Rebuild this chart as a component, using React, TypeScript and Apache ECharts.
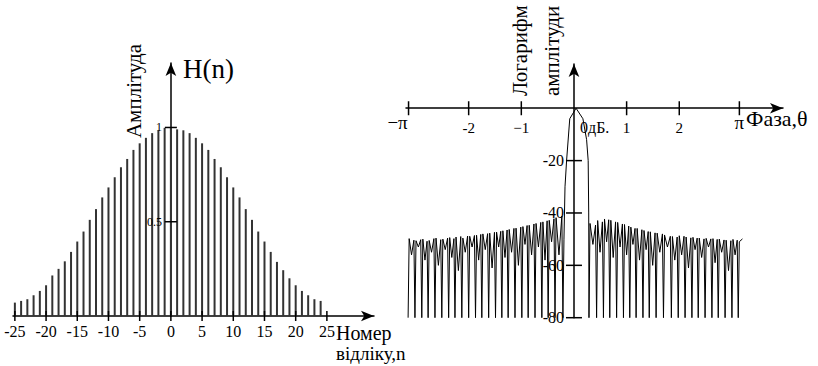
import React, { useEffect, useRef } from 'react';
import * as echarts from 'echarts';

// ---- Left chart: window samples H(n) ----
const sampleIndex = [
  -25, -24, -23, -22, -21, -20, -19, -18, -17, -16, -15, -14, -13, -12, -11, -10, -9, -8, -7, -6, -5, -4, -3, -2, -1,
  0, 1, 2, 3, 4, 5, 6, 7, 8, 9, 10, 11, 12, 13, 14, 15, 16, 17, 18, 19, 20, 21, 22, 23, 24,
];
const amplitude = [
  0.071, 0.08, 0.089, 0.11, 0.133, 0.163, 0.215, 0.25, 0.29, 0.34, 0.395, 0.448, 0.51, 0.567, 0.629, 0.682, 0.736, 0.789,
  0.833, 0.881, 0.916, 0.945, 0.97, 0.985, 0.998,
  1.0, 0.99, 0.985, 0.97, 0.945, 0.916, 0.881, 0.833, 0.789, 0.736, 0.682, 0.629, 0.567, 0.51, 0.448, 0.395, 0.34, 0.287,
  0.243, 0.2, 0.163, 0.133, 0.11, 0.089, 0.08,
];
const sampleTicks = [-25, -20, -15, -10, -5, 0, 5, 10, 15, 20, 25];
const sampleTickLabels = ['-25', '-20', '-15', '-10', '-5', '0', '5', '10', '15', '20', '25'];
const amplitudeTicks = [0.5, 1];
const amplitudeTickLabels = ['0.5', '1'];

// ---- Right chart: log magnitude spectrum [theta, dB] ----
const phaseTicks = [-Math.PI, -2, -1, 1, 2, Math.PI];
const phaseTickLabels = ['−π', '-2', '−1', '1', '2', 'π'];
const dbTicks = [-20, -40, -60, -80];
const dbTickLabels = ['-20', '-40', '-60', '-80'];

const leftSidelobes = [
  [-3.15, -80], [-3.13, -49.8], [-3.085, -56], [-3.04, -50.4], [-3.02, -80],
  [-3.0, -50.6], [-2.955, -53], [-2.91, -50.2], [-2.89, -80],
  [-2.87, -50.0], [-2.83, -58], [-2.79, -50.8], [-2.77, -80],
  [-2.75, -50.5], [-2.705, -55], [-2.66, -49.8], [-2.64, -80],
  [-2.62, -49.6], [-2.575, -60], [-2.53, -50.2], [-2.51, -80],
  [-2.49, -50.0], [-2.445, -54], [-2.4, -49.6], [-2.38, -80],
  [-2.36, -49.4], [-2.32, -57], [-2.28, -49.8], [-2.26, -80],
  [-2.24, -49.2], [-2.195, -62], [-2.15, -49.0], [-2.13, -80],
  [-2.11, -49.6], [-2.065, -55], [-2.02, -48.8], [-2.0, -80],
  [-1.98, -48.9], [-1.935, -53], [-1.89, -48.6], [-1.87, -80],
  [-1.85, -48.5], [-1.81, -58], [-1.77, -48.2], [-1.75, -80],
  [-1.73, -48.0], [-1.685, -54], [-1.64, -47.9], [-1.62, -80],
  [-1.6, -47.7], [-1.555, -61], [-1.51, -47.4], [-1.49, -80],
  [-1.47, -47.3], [-1.43, -53], [-1.39, -47.0], [-1.37, -80],
  [-1.35, -46.8], [-1.31, -57], [-1.27, -46.5], [-1.25, -80],
  [-1.23, -46.3], [-1.185, -55], [-1.14, -45.9], [-1.12, -80],
  [-1.1, -45.8], [-1.055, -60], [-1.01, -45.4], [-0.99, -80],
  [-0.97, -45.2], [-0.93, -52], [-0.89, -44.8], [-0.87, -80],
  [-0.85, -44.7], [-0.805, -56], [-0.76, -44.2], [-0.74, -80],
  [-0.72, -44.0], [-0.675, -53], [-0.63, -43.6], [-0.61, -80],
  [-0.59, -43.4], [-0.55, -58], [-0.51, -43.0], [-0.49, -80],
  [-0.47, -42.8], [-0.425, -51], [-0.38, -42.2], [-0.36, -80],
  [-0.34, -41.8], [-0.285, -56], [-0.23, -41.2], [-0.21, -80],
];
const mainLobe = [
  [-0.19, -50], [-0.17, -30], [-0.14, -20], [-0.08, -4], [0.04, 0], [0.17, -4], [0.24, -12], [0.27, -20],
  [0.28, -40], [0.285, -80],
];
const rightSidelobes = [
  [0.305, -44.0], [0.36, -52], [0.41, -44.6], [0.43, -80],
  [0.45, -42.9], [0.495, -55], [0.54, -43.4], [0.56, -80],
  [0.58, -42.3], [0.62, -51], [0.66, -42.6], [0.68, -80],
  [0.7, -42.8], [0.745, -57], [0.79, -43.4], [0.81, -80],
  [0.83, -43.6], [0.875, -53], [0.92, -44.2], [0.94, -80],
  [0.96, -44.4], [1.0, -56], [1.04, -45.0], [1.06, -80],
  [1.08, -45.4], [1.12, -52], [1.16, -45.9], [1.18, -80],
  [1.2, -45.9], [1.245, -58], [1.29, -46.4], [1.31, -80],
  [1.33, -46.7], [1.37, -54], [1.41, -47.1], [1.43, -80],
  [1.45, -47.2], [1.495, -60], [1.54, -47.6], [1.56, -80],
  [1.58, -47.7], [1.63, -55], [1.68, -48.0], [1.7, -80],
  [1.72, -48.4], [1.775, -53], [1.83, -48.9], [1.85, -80],
  [1.87, -49.0], [1.915, -58], [1.96, -49.2], [1.98, -80],
  [2.0, -48.7], [2.045, -56], [2.09, -48.9], [2.11, -80],
  [2.13, -49.2], [2.175, -61], [2.22, -49.5], [2.24, -80],
  [2.26, -49.3], [2.3, -54], [2.34, -49.6], [2.36, -80],
  [2.38, -49.6], [2.425, -57], [2.47, -49.9], [2.49, -80],
  [2.51, -49.7], [2.555, -53], [2.6, -49.9], [2.62, -80],
  [2.64, -49.8], [2.68, -59], [2.72, -50.1], [2.74, -80],
  [2.76, -50.0], [2.805, -55], [2.85, -50.3], [2.87, -80],
  [2.89, -50.4], [2.935, -62], [2.98, -50.6], [3.0, -80],
  [3.02, -50.1], [3.06, -56], [3.1, -50.4], [3.12, -80],
  [3.14, -51.0], [3.2, -49.9],
];

const FONT = 'Liberation Serif';
const INK = '#000';

function crossTicks(xIdx: number, yIdx: number, vertical: boolean, half: number, values: number[]) {
  return {
    type: 'custom',
    xAxisIndex: xIdx,
    yAxisIndex: yIdx,
    silent: true,
    z: 5,
    data: values.map((v) => (vertical ? [v, 0] : [0, v])),
    renderItem: (params: any, api: any) => {
      const p = api.coord([api.value(0), api.value(1)]);
      const shape = vertical
        ? { x1: p[0], y1: p[1] - half, x2: p[0], y2: p[1] + half }
        : { x1: p[0] - half, y1: p[1], x2: p[0] + half, y2: p[1] };
      return { type: 'line', shape, style: { stroke: INK, lineWidth: 1.5 } };
    },
  };
}

function axisTexts(
  xIdx: number,
  yIdx: number,
  onX: boolean,
  values: number[],
  labels: string[],
  offset: number,
  fontSize: number,
) {
  return {
    type: 'custom',
    xAxisIndex: xIdx,
    yAxisIndex: yIdx,
    silent: true,
    z: 6,
    data: values.map((v) => (onX ? [v, 0] : [0, v])),
    renderItem: (params: any, api: any) => {
      const p = api.coord([api.value(0), api.value(1)]);
      const text = labels[params.dataIndex];
      const isPi = text.indexOf('π') >= 0;
      const size = isPi ? fontSize + 4 : fontSize;
      const dx = text === '−π' ? -11 : 0;
      return {
        type: 'text',
        x: onX ? p[0] + dx : p[0] - offset,
        y: onX ? p[1] + offset - (isPi ? 6 : 0) : p[1],
        style: {
          text,
          fill: INK,
          font: `${size}px "${FONT}"`,
          textAlign: onX ? 'center' : 'right',
          textVerticalAlign: 'middle',
        },
      };
    },
  };
}

export default function App() {
  const ref = useRef<HTMLDivElement>(null);
  useEffect(() => {
    if (!ref.current) return;
    const chart = echarts.init(ref.current, null, { renderer: 'svg' });
    const axisLine = {
      onZero: true,
      symbol: ['none', 'arrow'],
      symbolSize: [8, 13],
      lineStyle: { color: INK, width: 1.5 },
    };
    const baseAxis = {
      type: 'value',
      axisLine,
      axisTick: { show: false },
      axisLabel: { show: false },
      splitLine: { show: false },
    };
    const option: any = {
      animation: false,
      backgroundColor: '#fff',
      grid: [
        { left: 13, top: 63, width: 361, height: 253 },
        { left: 406, top: 64, width: 377, height: 253.7 },
      ],
      xAxis: [
        { ...baseAxis, gridIndex: 0, min: -25.3, max: 32.55 },
        { ...baseAxis, gridIndex: 1, min: -3.19, max: 3.97 },
      ],
      yAxis: [
        { ...baseAxis, gridIndex: 0, min: 0, max: 1.342 },
        { ...baseAxis, gridIndex: 1, min: -80, max: 16.9 },
      ],
      series: [
        {
          type: 'custom',
          xAxisIndex: 0,
          yAxisIndex: 0,
          z: 3,
          data: sampleIndex.map((n, i) => [n, amplitude[i]]),
          renderItem: (params: any, api: any) => {
            const n = api.value(0);
            const h = api.value(1);
            const p0 = api.coord([n, 0]);
            const p1 = api.coord([n, h]);
            return {
              type: 'line',
              shape: { x1: p0[0], y1: p0[1], x2: p1[0], y2: p1[1] },
              style: { stroke: '#333', lineWidth: 2 },
            };
          },
        },
        {
          type: 'line',
          xAxisIndex: 1,
          yAxisIndex: 1,
          showSymbol: false,
          symbol: 'none',
          z: 3,
          lineStyle: { color: INK, width: 1 },
          data: [...leftSidelobes, ...mainLobe, ...rightSidelobes],
        },
        crossTicks(0, 0, true, 5, sampleTicks),
        crossTicks(0, 0, false, 6, amplitudeTicks),
        crossTicks(1, 1, true, 7, phaseTicks),
        crossTicks(1, 1, false, 8, dbTicks),
        axisTexts(0, 0, true, sampleTicks, sampleTickLabels, 15, 16),
        axisTexts(0, 0, false, amplitudeTicks, amplitudeTickLabels, 9, 12),
        axisTexts(1, 1, true, phaseTicks, phaseTickLabels, 20, 15),
        axisTexts(1, 1, false, dbTicks, dbTickLabels, 10, 16),
      ],
      graphic: [
        { type: 'text', x: 183, y: 69, style: { text: 'H(n)', fill: INK, font: `27px "${FONT}"`, textVerticalAlign: 'middle' } },
        {
          type: 'text',
          x: 134,
          y: 91,
          rotation: Math.PI / 2,
          style: { text: 'Амплітуда', fill: INK, font: `21px "${FONT}"`, textAlign: 'center', textVerticalAlign: 'middle' },
        },
        { type: 'text', x: 336, y: 333, style: { text: 'Номер', fill: INK, font: `20px "${FONT}"`, textVerticalAlign: 'middle' } },
        { type: 'text', x: 336, y: 353, style: { text: 'відліку,n', fill: INK, font: `19px "${FONT}"`, textVerticalAlign: 'middle' } },
        {
          type: 'text',
          x: 520,
          y: 96,
          rotation: Math.PI / 2,
          style: { text: 'Логарифм', fill: INK, font: `21px "${FONT}"`, textAlign: 'left', textVerticalAlign: 'middle' },
        },
        {
          type: 'text',
          x: 552,
          y: 96,
          rotation: Math.PI / 2,
          style: { text: 'амплітуди', fill: INK, font: `21px "${FONT}"`, textAlign: 'left', textVerticalAlign: 'middle' },
        },
        { type: 'text', x: 746, y: 118, style: { text: 'Фаза,θ', fill: INK, font: `22px "${FONT}"`, textVerticalAlign: 'middle' } },
        { type: 'text', x: 580, y: 127, style: { text: '0дБ.', fill: INK, font: `16px "${FONT}"`, textVerticalAlign: 'middle' } },
      ],
    };
    chart.setOption(option);
    return () => chart.dispose();
  }, []);
  return <div ref={ref} style={{ position: 'fixed', left: 0, top: 0, width: 818, height: 366 }} />;
}
